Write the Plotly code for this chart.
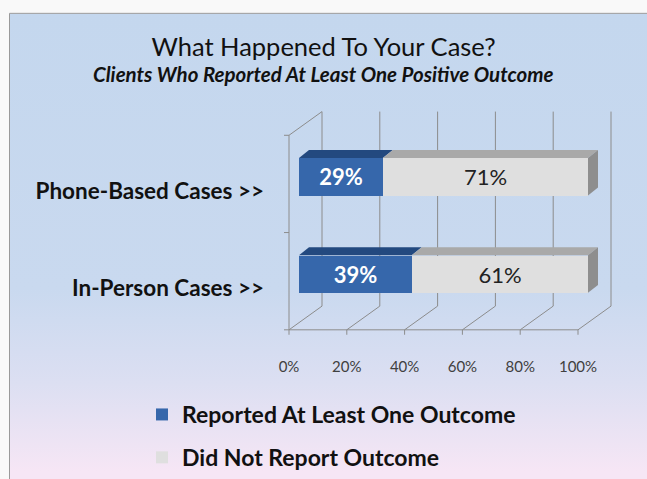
import base64
import plotly.graph_objects as go

# ---------------- data ----------------
CATEGORIES = ["Phone-Based Cases >>", "In-Person Cases >>"]
SERIES_NAMES = ["Reported At Least One Outcome", "Did Not Report Outcome"]
REPORTED = [29, 39]
NOT_REPORTED = [71, 61]
X_TICKS = [0, 20, 40, 60, 80, 100]
X_TICK_LABELS = ["0%", "20%", "40%", "60%", "80%", "100%"]
TITLE = "What Happened To Your Case?"
SUBTITLE = "Clients Who Reported At Least One Positive Outcome"

# ---------------- geometry / style ----------------
W, H = 647, 479
FONT = "Lato"
PX0 = 299.0        # pixel of 0 % on the bar plane
PXPP = 2.89        # pixels per percent
PY_CAT0 = 277.5    # pixel (from top) of category index 0 centre
PXPC = 98.5        # pixels per category step

DOM_X = (275, 620)     # plot domain in pixels
DOM_Y = (105, 345)     # top, bottom in pixels

def px_to_x(p):
    return (p - PX0) / PXPP

def py_to_y(p):
    return (PY_CAT0 - p) / PXPC

x_range = [px_to_x(DOM_X[0]), px_to_x(DOM_X[1])]
y_range = [py_to_y(DOM_Y[1]), py_to_y(DOM_Y[0])]

# depth offsets (data units)
FRONT_DX, FRONT_DY = -10 / PXPP, -7.25 / PXPC
BACK_DX, BACK_DY = 23 / PXPP, 16.75 / PXPC
BAR_DX, BAR_DY = 10 / PXPP, 8 / PXPC
BAR_W = 38 / PXPC
Y_LO, Y_HI = -0.5, len(CATEGORIES) - 0.5

n = len(CATEGORIES)
y_pos = [n - 1 - i for i in range(n)]

BLUE = "#3667ab"
BLUE_TOP = "#23497f"
GRAY = "#dfdfdf"
GRAY_TOP = "#a9a9a9"
GRAY_SIDE = "#8e8e8e"
GRID = "#8c8c8c"

fig = go.Figure()
fig.add_trace(go.Bar(
    y=y_pos, x=REPORTED, orientation="h", name=SERIES_NAMES[0],
    marker=dict(color=BLUE, line=dict(width=0)), width=BAR_W,
    text=[f"{v}%" for v in REPORTED], textposition="inside",
    insidetextanchor="middle", textangle=0,
    insidetextfont=dict(family=FONT, size=22, color="white", weight="bold"),
    legendgroup="a",
))
fig.add_trace(go.Bar(
    y=y_pos, x=NOT_REPORTED, orientation="h", name=SERIES_NAMES[1],
    marker=dict(color=GRAY, line=dict(width=0)), width=BAR_W,
    text=[f"{v}%" for v in NOT_REPORTED], textposition="inside",
    insidetextanchor="middle", textangle=0,
    insidetextfont=dict(family=FONT, size=22, color="#222222"),
    legendgroup="b",
))

shapes = []

def line(x0, y0, x1, y1, layer="below"):
    shapes.append(dict(type="line", xref="x", yref="y", x0=x0, y0=y0, x1=x1, y1=y1,
                       line=dict(color=GRID, width=1), layer=layer))

# back wall verticals, floor diagonals, front ticks
for t in X_TICKS:
    line(t + BACK_DX, Y_LO + BACK_DY, t + BACK_DX, Y_HI + BACK_DY)
    line(t + FRONT_DX, Y_LO + FRONT_DY, t + BACK_DX, Y_LO + BACK_DY)
    line(t + FRONT_DX, Y_LO + FRONT_DY, t + FRONT_DX, Y_LO + FRONT_DY - 5 / PXPC)
# front floor edge
line(X_TICKS[0] + FRONT_DX, Y_LO + FRONT_DY, X_TICKS[-1] + FRONT_DX, Y_LO + FRONT_DY)
# left wall
line(FRONT_DX, Y_LO + FRONT_DY, FRONT_DX, Y_HI + FRONT_DY)
line(FRONT_DX, Y_HI + FRONT_DY, BACK_DX, Y_HI + BACK_DY)
for k in range(n + 1):
    yy = Y_LO + k + FRONT_DY
    line(FRONT_DX, yy, FRONT_DX - 5 / PXPP, yy)

# 3D faces of bars
def path(pts):
    return "M " + " L ".join(f"{a},{b}" for a, b in pts) + " Z"

for i in range(n):
    yc = y_pos[i]
    yt = yc + BAR_W / 2
    yb = yc - BAR_W / 2
    segs = [(0, REPORTED[i], BLUE_TOP), (REPORTED[i], REPORTED[i] + NOT_REPORTED[i], GRAY_TOP)]
    for x0, x1, col in segs:
        shapes.append(dict(type="path", xref="x", yref="y",
                           path=path([(x0, yt), (x1, yt), (x1 + BAR_DX, yt + BAR_DY), (x0 + BAR_DX, yt + BAR_DY)]),
                           fillcolor=col, line=dict(width=0), layer="above"))
    xe = REPORTED[i] + NOT_REPORTED[i]
    shapes.append(dict(type="path", xref="x", yref="y",
                       path=path([(xe, yb), (xe, yt), (xe + BAR_DX, yt + BAR_DY), (xe + BAR_DX, yb + BAR_DY)]),
                       fillcolor=GRAY_SIDE, line=dict(width=0), layer="above"))

# chart box border (left and top edges only; box continues past the page)
BOX_X, BOX_Y = 9.5, 13.5
shapes.append(dict(type="path", xref="paper", yref="paper",
                   path=f"M {BOX_X / W},-0.1 L {BOX_X / W},{1 - BOX_Y / H} L 1.1,{1 - BOX_Y / H}",
                   line=dict(color="#9a9a9a", width=1), layer="above"))

# background gradient extends beyond the page so it fills to the edges
EXT = 1.2
svg = ('<svg xmlns="http://www.w3.org/2000/svg" width="100" height="100" viewBox="0 0 100 100" '
       'preserveAspectRatio="none">'
       '<defs><linearGradient id="g" x1="0" y1="0" x2="0" y2="1">'
       '<stop offset="0" stop-color="#c4d7ee"/><stop offset="0.5" stop-color="#c9d9ef"/>'
       '<stop offset="0.67" stop-color="#dcdff2"/><stop offset="0.83" stop-color="#f6e6f5"/>'
       '<stop offset="1" stop-color="#f6e6f5"/>'
       '</linearGradient></defs><rect x="0" y="0" width="100" height="100" fill="url(#g)"/></svg>')
src = "data:image/svg+xml;base64," + base64.b64encode(svg.encode()).decode()

fig.update_layout(
    width=W, height=H,
    margin=dict(l=0, r=0, t=0, b=0),
    paper_bgcolor="#f9f9f9", plot_bgcolor="rgba(0,0,0,0)",
    barmode="stack", bargap=0,
    images=[dict(source=src, xref="paper", yref="paper", x=BOX_X / W, y=1 - BOX_Y / H,
                 sizex=EXT, sizey=(1 - BOX_Y / H) * EXT, sizing="stretch",
                 xanchor="left", yanchor="top", layer="below")],
    title=dict(text=TITLE, x=0.5, xanchor="center", y=1 - 47 / H, yanchor="middle",
               font=dict(family=FONT, size=25.5, color="#111111")),
    annotations=[dict(text=SUBTITLE, xref="paper", yref="paper", x=0.5, y=1 - 75 / H,
                      xanchor="center", yanchor="middle", showarrow=False,
                      font=dict(family=FONT, size=20.5, color="#111111", weight="bold", style="italic"))],
    xaxis=dict(domain=[DOM_X[0] / W, DOM_X[1] / W], range=x_range, tickvals=X_TICKS,
               ticktext=X_TICK_LABELS, showgrid=False, zeroline=False, showline=False,
               ticks="", ticklabelshift=-10, ticklabelstandoff=15,
               tickfont=dict(family=FONT, size=15, color="#404040"), fixedrange=True),
    yaxis=dict(domain=[1 - DOM_Y[1] / H, 1 - DOM_Y[0] / H], range=y_range,
               tickvals=y_pos, ticktext=CATEGORIES, showgrid=False, zeroline=False,
               showline=False, ticks="", ticklabelshift=14, ticklabelstandoff=10,
               tickfont=dict(family=FONT, size=22.5, color="#111111", weight="bold"), fixedrange=True),
    showlegend=True,
    legend=dict(x=142 / W, xanchor="left", y=1 - 398 / H, yanchor="top",
                orientation="v", traceorder="grouped", tracegroupgap=10,
                bgcolor="rgba(0,0,0,0)",
                font=dict(family=FONT, size=23, color="#111111", weight="bold")),
    shapes=shapes,
)

fig.write_html(
    "out.html", config={"displayModeBar": False},
    post_script=("document.body.style.margin='0';"
                 "document.body.style.overflow='hidden';"
                 "document.documentElement.style.overflow='hidden';"),
)
